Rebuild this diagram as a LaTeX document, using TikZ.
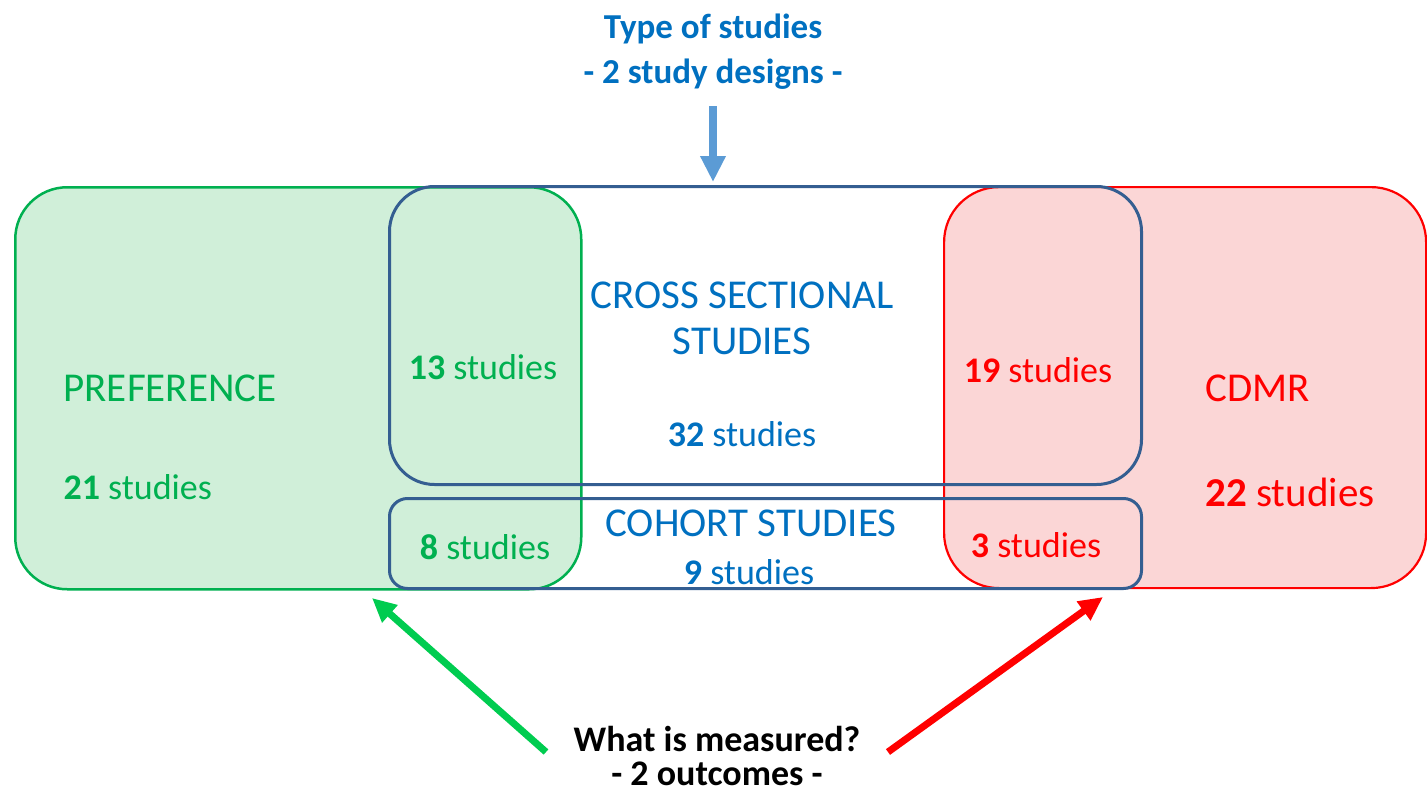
\documentclass[tikz,border=0pt]{standalone}
\usepackage{fontspec}
\setmainfont{Carlito}
\usetikzlibrary{arrows.meta}
\definecolor{gline}{RGB}{0,176,80}
\definecolor{gfill}{RGB}{208,239,217}
\definecolor{rline}{RGB}{255,0,0}
\definecolor{rfill}{RGB}{251,214,214}
\definecolor{bline}{RGB}{52,94,145}
\definecolor{btext}{RGB}{0,112,192}
\definecolor{barrow}{RGB}{91,155,213}
\definecolor{garrow}{RGB}{0,204,80}
\tikzset{
  big/.style={font=\fontsize{41}{46}\selectfont},
  small/.style={font=\fontsize{36}{43}\selectfont},
  gbox/.style={draw=gline, fill=gfill, line width=2.5pt, rounded corners=52pt, inner sep=0pt, anchor=north west},
  rbox/.style={draw=rline, fill=rfill, line width=2.2pt, rounded corners=55pt, inner sep=0pt, anchor=north west},
  bbox/.style={draw=bline, line width=3pt, inner sep=0pt, anchor=north west},
  gtxt/.style={text=gline},
  rtxt/.style={text=rline},
  btxt/.style={text=btext},
  toparrow/.style={draw=barrow, line width=8pt, -{Triangle[width=24pt,length=26pt]}},
  garr/.style={draw=garrow, line width=7pt, -{Triangle[width=22pt,length=24pt]}},
  rarr/.style={draw=rline, line width=7pt, -{Triangle[width=22pt,length=24pt]}},
}
\begin{document}
\begin{tikzpicture}[x=1pt,y=-1pt]
\useasboundingbox[fill=white] (0,0) rectangle (1427,792);
% outcome boxes
\node[gbox, minimum width=566pt, minimum height=402pt] (pref) at (14,186) {};
\node[rbox, minimum width=482pt, minimum height=401pt] (cdmr) at (943,186) {};
% study design boxes
\node[bbox, rounded corners=45pt, minimum width=752pt, minimum height=298pt] (cs) at (388,185) {};
\node[bbox, rounded corners=18pt, minimum width=752pt, minimum height=90pt] (co) at (388,497) {};
% labels
\node[small, btxt, font=\fontsize{35}{45}\selectfont\bfseries, align=center] (tos) at (713,52) {Type of studies\\- 2 study designs -};
\node[big, btxt, align=center] (cslab) at (742,318) {CROSS SECTIONAL\\STUDIES};
\node[small, btxt] (cs32) at (742,434) {\textbf{32} studies};
\node[big, btxt] (colab) at (751,523) {COHORT STUDIES};
\node[small, btxt] (co9) at (749,572) {\textbf{9} studies};
\node[big, gtxt, anchor=west] (preflab) at (60,388) {PREFERENCE};
\node[small, gtxt, anchor=west] (pref21) at (60,487) {\textbf{21} studies};
\node[small, gtxt] (g13) at (483,367) {\textbf{13} studies};
\node[small, gtxt] (g8) at (485,547) {\textbf{8} studies};
\node[big, rtxt, anchor=west] (cdmrlab) at (1202,388) {CDMR};
\node[big, rtxt, anchor=west] (r22) at (1202,492) {\textbf{22} studies};
\node[small, rtxt] (r19) at (1038,370) {\textbf{19} studies};
\node[small, rtxt] (r3) at (1036,545) {\textbf{3} studies};
\node[small, font=\fontsize{36}{34}\selectfont\bfseries, align=center] (wm) at (717,756) {What is measured?\\- 2 outcomes -};
% arrows
\coordinate (tA) at (713,106);
\coordinate (tB) at (713,182);
\draw[toparrow] (tA) -- (tB);
\coordinate (gA) at (546,752);
\coordinate (gB) at (372,598);
\draw[garr] (gA) -- (gB);
\coordinate (rA) at (888,752);
\coordinate (rB) at (1103,597);
\draw[rarr] (rA) -- (rB);
\end{tikzpicture}
\end{document}
